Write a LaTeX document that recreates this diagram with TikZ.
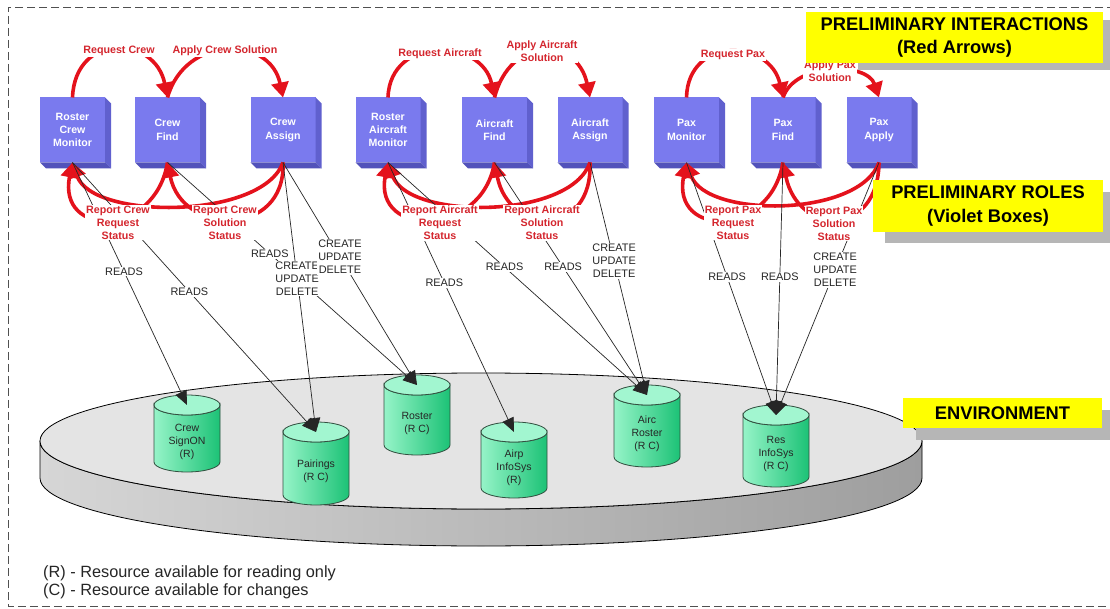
\documentclass[tikz,border=0pt]{standalone}
\usepackage{fontspec}
\setmainfont{Liberation Sans}
\usetikzlibrary{arrows.meta}

\definecolor{arrowred}{RGB}{228,18,28}
\definecolor{labelred}{RGB}{212,38,46}
\definecolor{boxfront}{RGB}{122,122,238}
\definecolor{boxright}{RGB}{96,96,206}
\definecolor{boxbottom}{RGB}{82,82,186}
\definecolor{drumleft}{RGB}{150,244,200}
\definecolor{drumright}{RGB}{28,194,118}
\definecolor{drumtop}{RGB}{162,246,208}
\definecolor{drumline}{RGB}{50,80,64}
\definecolor{disktop}{RGB}{228,228,228}
\definecolor{diskl}{RGB}{214,214,214}
\definecolor{diskr}{RGB}{158,158,158}
\definecolor{tagyellow}{RGB}{255,255,0}
\definecolor{tagshadow}{RGB}{182,182,182}
\definecolor{framegray}{RGB}{80,80,80}

\tikzset{
  rolebx/.style={fill=boxfront, minimum width=65pt, minimum height=65pt,
    inner sep=0pt, outer sep=0pt, text=white, align=center,
    font=\bfseries\fontsize{10.6}{13.3}\selectfont},
  interact/.style={draw=arrowred, line width=3.6pt,
    -{Triangle[length=15pt,width=17pt]}},
  redtag/.style={text=labelred, align=center, fill=white, inner sep=0.8pt,
    font=\bfseries\fontsize{10.7}{13}\selectfont},
  access/.style={draw=black!85, line width=0.7pt,
    -{Triangle[length=14pt,width=12pt]}},
  blacktag/.style={fill=white, align=center, inner sep=1pt, text=black!85,
    font=\fontsize{10.9}{13}\selectfont},
  drumtext/.style={align=center, text=black!85, inner sep=0pt,
    font=\fontsize{10.5}{13}\selectfont},
  tag/.style={fill=tagyellow, align=center, inner sep=0pt,
    font=\bfseries\fontsize{18.3}{23.5}\selectfont},
  frame/.style={draw=framegray, line width=0.9pt, dash pattern=on 8pt off 4pt},
}

% violet role box with a right and a bottom face
\newcommand\rolebox[3]{%
  \node[rolebx] (#1) at (#2,130) {#3};
  \fill[boxright] (#1.north east) -- ++(6,6) -- ++(0,65) -- (#1.south east) -- cycle;
  \fill[boxbottom] (#1.south west) -- ++(6,6) -- ++(65,0) -- (#1.south east) -- cycle;
}

% green database drum: name, centre x, top y, bottom y, text
\newcommand\drum[5]{%
  \path[draw=drumline, line width=0.8pt, left color=drumleft, right color=drumright]
    ({#2-33},{#3+10}) -- ({#2-33},{#4-10})
    arc[start angle=180, end angle=360, x radius=33pt, y radius=10pt]
    -- ({#2+33},{#3+10})
    arc[start angle=0, end angle=-180, x radius=33pt, y radius=10pt] -- cycle;
  \path[draw=drumline, line width=0.8pt, fill=drumtop]
    (#2,{#3+10}) ellipse[x radius=33pt, y radius=10pt];
  \node[drumtext] (#1) at (#2,{(#3+#4)/2+8}) {#5};
  \coordinate (#1-in) at (#2,{#3+10});
}

\begin{document}
\begin{tikzpicture}[x=1pt, y=-1pt]
\useasboundingbox (0,0) rectangle (1110,609);
\fill[white] (0,0) rectangle (1110,609);

% dashed frame
\draw[frame] (1115,7) -- (8,7) -- (8,606) -- (1115,606);

% environment platform
\path[draw=black, line width=0.8pt, left color=diskl, right color=diskr]
  (40,441) -- (40,478)
  arc[start angle=180, end angle=360, x radius=441pt, y radius=68pt]
  -- (922,441)
  arc[start angle=0, end angle=-180, x radius=441pt, y radius=68pt] -- cycle;
\path[draw=black, line width=0.8pt, fill=disktop]
  (481,441) ellipse[x radius=441pt, y radius=68pt];

% resources
\drum{signon}{187}{395}{472}{Crew\\SignON\\(R)}
\drum{pairings}{316}{422}{505}{Pairings\\(R C)}
\drum{roster}{417}{375}{455}{Roster\\(R C)}
\drum{airp}{514}{422}{498}{Airp\\InfoSys\\(R)}
\drum{airc}{647}{385}{467}{Airc\\Roster\\(R C)}
\drum{res}{776}{405}{487}{Res\\InfoSys\\(R C)}

% roles
\rolebox{rcm}{72.5}{Roster\\Crew\\Monitor}
\rolebox{cf}{167.5}{Crew\\Find}
\rolebox{ca}{283}{Crew\\Assign}
\rolebox{ram}{388}{Roster\\Aircraft\\Monitor}
\rolebox{af}{494.5}{Aircraft\\Find}
\rolebox{aa}{590}{Aircraft\\Assign}
\rolebox{pm}{686.5}{Pax\\Monitor}
\rolebox{pf}{783}{Pax\\Find}
\rolebox{pa}{879}{Pax\\Apply}

% interactions above the roles
\draw[interact] (rcm.north) .. controls (75,32) and (155,35) .. (cf.north);
\draw[interact] (cf.north) .. controls (185,35) and (270,35) .. (ca.north);
\draw[interact] (ram.north) .. controls (390,35) and (482,38) .. (af.north);
\draw[interact] (af.north) .. controls (510,36) and (577,36) .. (aa.north);
\draw[interact] (pm.north) .. controls (688,36) and (770,39) .. (pf.north);
\draw[interact] (pf.north) .. controls (795,62) and (867,62) .. (pa.north);

% status reports below the roles
\draw[interact] (cf.south) .. controls (155,238) and (57,238) .. (rcm.south);
\draw[interact] (ca.south) .. controls (286,238) and (182,236) .. (cf.south);
\draw[interact] (ca.south) .. controls (262,220) and (92,220) .. (rcm.south);
\draw[interact] (af.south) .. controls (482,238) and (373,238) .. (ram.south);
\draw[interact] (aa.south) .. controls (593,238) and (509,236) .. (af.south);
\draw[interact] (aa.south) .. controls (570,220) and (408,220) .. (ram.south);
\draw[interact] (pf.south) .. controls (770,238) and (671,238) .. (pm.south);
\draw[interact] (pa.south) .. controls (878,238) and (798,236) .. (pf.south);
\draw[interact] (pa.south) .. controls (859,218) and (706,218) .. (pm.south);

% resource access
\draw[access] (rcm.south) -- (signon-in);
\draw[access] (rcm.south) -- (pairings-in);
\draw[access] (cf.south) -- (roster-in);
\draw[access] (ca.south) -- (pairings-in);
\draw[access] (ca.south) -- (roster-in);
\draw[access] (ram.south) -- (airp-in);
\draw[access] (ram.south) -- (airc-in);
\draw[access] (af.south) -- (airc-in);
\draw[access] (aa.south) -- (airc-in);
\draw[access] (pm.south) -- (res-in);
\draw[access] (pf.south) -- (res-in);
\draw[access] (pa.south) -- (res-in);

% access labels
\path (rcm.south) -- node[blacktag, pos=0.45] {READS} (signon-in);
\path (rcm.south) -- node[blacktag, pos=0.48] {READS} (pairings-in);
\path (cf.south) -- node[blacktag, pos=0.41] {READS} (roster-in);
\path (ca.south) -- node[blacktag, pos=0.43] {CREATE\\UPDATE\\DELETE} (pairings-in);
\path (ca.south) -- node[blacktag, pos=0.425] {CREATE\\UPDATE\\DELETE} (roster-in);
\path (ram.south) -- node[blacktag, pos=0.447] {READS} (airp-in);
\path (ram.south) -- node[blacktag, pos=0.45] {READS} (airc-in);
\path (af.south) -- node[blacktag, pos=0.45] {READS} (airc-in);
\path (aa.south) -- node[blacktag, pos=0.424] {CREATE\\UPDATE\\DELETE} (airc-in);
\path (pm.south) -- node[blacktag, pos=0.453] {READS} (res-in);
\path (pf.south) -- node[blacktag, pos=0.453] {READS} (res-in);
\path (pa.south) -- node[blacktag, pos=0.426] {CREATE\\UPDATE\\DELETE} (res-in);

% interaction labels
\node[redtag] (t1) at (119,51) {Request Crew};
\node[redtag] (t2) at (225,51) {Apply Crew Solution};
\node[redtag] (t3) at (440,54) {Request Aircraft};
\node[redtag] (t4) at (542,51.5) {Apply Aircraft\\Solution};
\node[redtag] (t5) at (733,55) {Request Pax};
\node[redtag] (t6) at (830,71) {Apply Pax\\Solution};
\node[redtag, anchor=north] (b1) at (118,205) {Report Crew\\Request\\Status};
\node[redtag, anchor=north] (b2) at (225,205) {Report Crew\\Solution\\Status};
\node[redtag, anchor=north] (b3) at (440,205) {Report Aircraft\\Request\\Status};
\node[redtag, anchor=north] (b4) at (542,205) {Report Aircraft\\Solution\\Status};
\node[redtag, anchor=north] (b5) at (733,205) {Report Pax\\Request\\Status};
\node[redtag, anchor=north] (b6) at (834,206) {Report Pax\\Solution\\Status};

% captions
\fill[tagshadow] (858,20) rectangle (1115,70);
\node[tag, minimum width=297pt, minimum height=51pt] (interactions) at (954.5,37.5)
  {PRELIMINARY INTERACTIONS\\(Red Arrows)};
\fill[tagshadow] (885,192) rectangle (1115,243);
\node[tag, minimum width=230pt, minimum height=52pt] (roles) at (988,206)
  {PRELIMINARY ROLES\\(Violet Boxes)};
\fill[tagshadow] (916,410) rectangle (1115,440);
\node[tag, minimum width=199pt, minimum height=30pt] (environment) at (1002.5,413)
  {ENVIRONMENT};

% legend
\node[anchor=west, align=left, inner sep=0pt, text=black!85,
  font=\fontsize{16.3}{17.6}\selectfont] (legend) at (43,582)
  {(R) - Resource available for reading only\\(C) - Resource available for changes};
\end{tikzpicture}
\end{document}
